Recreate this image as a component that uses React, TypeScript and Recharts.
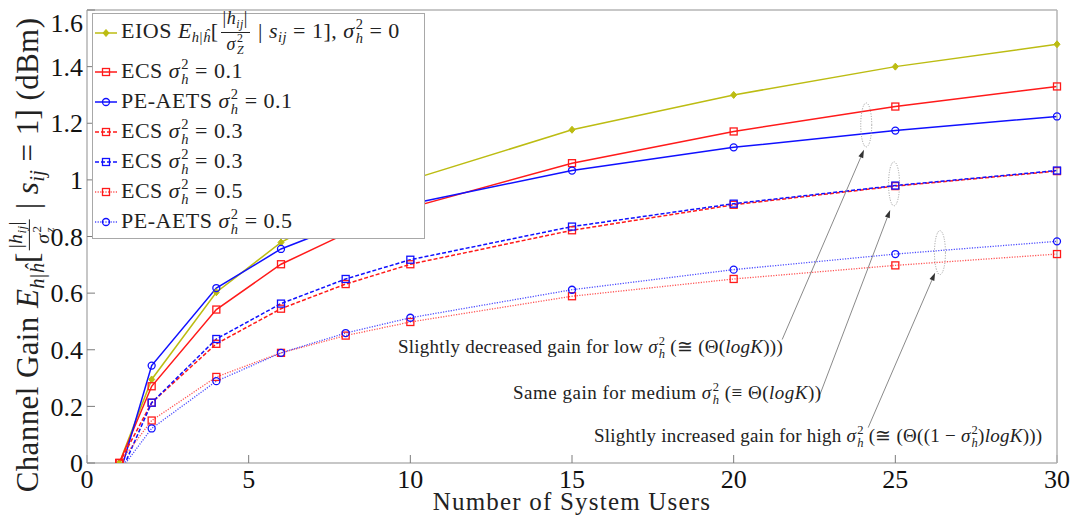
import React from "react";
import { LineChart, Line, XAxis, YAxis, ReferenceLine, ReferenceDot } from "recharts";

const SERIF = '"Liberation Serif", "DejaVu Serif", serif';

// number of system users K
const USERS = [1, 2, 4, 6, 8, 10, 15, 20, 25, 30];

// channel gain per scheme
const EIOS_S0 = [0, 0.295, 0.603, 0.779, 0.9, 1.0, 1.177, 1.3, 1.4, 1.479];
const ECS_S01 = [0, 0.271, 0.542, 0.702, 0.81, 0.902, 1.059, 1.171, 1.259, 1.33];
const PEAETS_S01 = [-0.045, 0.344, 0.618, 0.756, 0.845, 0.915, 1.033, 1.115, 1.174, 1.224];
const ECS_S03 = [0, 0.213, 0.421, 0.545, 0.632, 0.702, 0.822, 0.912, 0.978, 1.031];
const ECS_S03_B = [-0.047, 0.213, 0.438, 0.563, 0.65, 0.718, 0.835, 0.916, 0.98, 1.033];
const ECS_S05 = [0, 0.15, 0.304, 0.389, 0.45, 0.498, 0.589, 0.65, 0.698, 0.738];
const PEAETS_S05 = [-0.03, 0.122, 0.289, 0.389, 0.459, 0.513, 0.612, 0.683, 0.738, 0.783];

const X_TICKS = [0, 5, 10, 15, 20, 25, 30];
const Y_TICKS = [0, 0.2, 0.4, 0.6, 0.8, 1.0, 1.2, 1.4, 1.6];

// annotation arrows (tail -> head) and the dotted ellipses they point at
const ARROWS = [
  { from: [21.5, 0.436], to: [24.03, 1.106] },
  { from: [22.67, 0.242], to: [24.84, 0.894] },
  { from: [24.16, 0.125], to: [26.23, 0.672] },
];
const ELLIPSES = [
  [24.1, 1.194],
  [24.96, 0.986],
  [26.38, 0.743],
];

const YELLOW = "#bcbc12";
const RED = "#ff1a1a";
const BLUE = "#1010ff";

const I = ({ children }: { children: React.ReactNode }) => <i>{children}</i>;

function Script({ sup, sub }: { sup: React.ReactNode; sub: React.ReactNode }) {
  return (
    <span
      style={{
        display: "inline-block",
        fontSize: "0.66em",
        lineHeight: 1,
        verticalAlign: "-0.35em",
        marginLeft: 1,
        textAlign: "left",
      }}
    >
      <span style={{ display: "block" }}>{sup}</span>
      <span style={{ display: "block" }}>{sub}</span>
    </span>
  );
}

function Sub({ children }: { children: React.ReactNode }) {
  return <span style={{ fontSize: "0.66em", verticalAlign: "-0.3em", lineHeight: 1 }}>{children}</span>;
}

function Frac({ num, den, scale }: { num: React.ReactNode; den: React.ReactNode; scale: number }) {
  return (
    <span
      style={{
        display: "inline-flex",
        flexDirection: "column",
        alignItems: "center",
        verticalAlign: "middle",
        fontSize: `${scale}em`,
        lineHeight: 1.0,
        margin: "0 2px",
      }}
    >
      <span style={{ borderBottom: "1px solid currentColor", padding: "0 2px 1px" }}>{num}</span>
      <span>{den}</span>
    </span>
  );
}

const sigmaH = (
  <>
    <I>σ</I>
    <Script sup="2" sub={<I>h</I>} />
  </>
);

function expectation(zSub: string, fracScale: number) {
  return (
    <>
      <I>E</I>
      <Sub>
        <I>h</I>|<I>ĥ</I>
      </Sub>
      [
      <Frac
        scale={fracScale}
        num={
          <>
            |<I>h</I>
            <Sub>
              <I>ij</I>
            </Sub>
            |
          </>
        }
        den={
          <>
            <I>σ</I>
            <Script sup="2" sub={<I>{zSub}</I>} />
          </>
        }
      />
      {" | "}
      <I>s</I>
      <Sub>
        <I>ij</I>
      </Sub>
      {" = 1]"}
    </>
  );
}

type Marker = "diamond" | "square" | "circle";

const SERIES: {
  key: string;
  values: number[];
  color: string;
  dash?: string;
  width: number;
  opacity: number;
  marker: Marker;
  label: React.ReactNode;
}[] = [
  {
    key: "eios",
    values: EIOS_S0,
    color: YELLOW,
    width: 1.5,
    opacity: 1,
    marker: "diamond",
    label: (
      <>
        EIOS {expectation("Z", 0.82)}, {sigmaH} = 0
      </>
    ),
  },
  { key: "ecs01", values: ECS_S01, color: RED, width: 1.5, opacity: 1, marker: "square", label: <>ECS {sigmaH} = 0.1</> },
  { key: "pe01", values: PEAETS_S01, color: BLUE, width: 1.5, opacity: 1, marker: "circle", label: <>PE-AETS {sigmaH} = 0.1</> },
  { key: "ecs03", values: ECS_S03, color: RED, dash: "4 2", width: 1.5, opacity: 1, marker: "square", label: <>ECS {sigmaH} = 0.3</> },
  { key: "ecs03b", values: ECS_S03_B, color: BLUE, dash: "4 2", width: 1.5, opacity: 1, marker: "square", label: <>ECS {sigmaH} = 0.3</> },
  { key: "ecs05", values: ECS_S05, color: RED, dash: "1.2 1.4", width: 1.3, opacity: 0.75, marker: "square", label: <>ECS {sigmaH} = 0.5</> },
  { key: "pe05", values: PEAETS_S05, color: BLUE, dash: "1.2 1.4", width: 1.3, opacity: 0.75, marker: "circle", label: <>PE-AETS {sigmaH} = 0.5</> },
];

const data = USERS.map((x, i) => {
  const row: { [k: string]: number } = { x };
  SERIES.forEach((s) => (row[s.key] = s.values[i]));
  return row;
});

function markerShape(shape: Marker, color: string, cx: number, cy: number, key?: React.Key) {
  if (shape === "square")
    return <rect key={key} x={cx - 3.5} y={cy - 3.5} width={7} height={7} fill="none" stroke={color} strokeWidth={1.3} />;
  if (shape === "circle") return <circle key={key} cx={cx} cy={cy} r={3.5} fill="none" stroke={color} strokeWidth={1.3} />;
  return (
    <polygon
      key={key}
      points={`${cx},${cy - 3.5} ${cx + 3},${cy} ${cx},${cy + 3.5} ${cx - 3},${cy}`}
      fill={color}
      stroke={color}
      strokeWidth={1}
    />
  );
}

function dotFor(shape: Marker, color: string) {
  return (p: any) => {
    if (p.cx == null || p.cy == null || p.value < 0) return <g key={p.index} />;
    return markerShape(shape, color, p.cx, p.cy, p.index);
  };
}

function Arrow(props: any) {
  const { x1, y1, x2, y2 } = props;
  const dx = x2 - x1;
  const dy = y2 - y1;
  const len = Math.hypot(dx, dy) || 1;
  const ux = dx / len;
  const uy = dy / len;
  const bx = x2 - ux * 8;
  const by = y2 - uy * 8;
  return (
    <g>
      <line x1={x1} y1={y1} x2={bx} y2={by} stroke="#8a8a8a" strokeWidth={1} />
      <polygon
        points={`${x2},${y2} ${bx - uy * 2.6},${by + ux * 2.6} ${bx + uy * 2.6},${by - ux * 2.6}`}
        fill="#333"
      />
    </g>
  );
}

const tickStyle = { fontSize: 26, fill: "#111", fontFamily: SERIF };
const axisLine = { stroke: "#b4b4b4", strokeWidth: 1.5 };
const tickLine = { stroke: "#7c7c7c", strokeWidth: 1 };

function LegendBox() {
  return (
    <div
      style={{
        position: "absolute",
        left: 84,
        top: 5,
        width: 333,
        height: 226,
        boxSizing: "border-box",
        border: "1px solid #a8a8a8",
        background: "#fff",
        fontFamily: SERIF,
        fontSize: 22,
        letterSpacing: 0.5,
        color: "#222",
      }}
    >
      {SERIES.map((s, i) => (
        <div
          key={s.key}
          style={{
            height: i === 0 ? 40 : 30,
            display: "flex",
            alignItems: "center",
            whiteSpace: "nowrap",
            marginTop: i === 0 ? -1 : 0,
            marginBottom: i === 0 ? 4 : 0,
          }}
        >
          <svg width={26} height={12} style={{ marginLeft: 1, marginRight: 1, flex: "none" }}>
            <line
              x1={1}
              y1={6}
              x2={23}
              y2={6}
              stroke={s.color}
              strokeWidth={s.width}
              strokeDasharray={s.dash}
              strokeOpacity={s.opacity}
            />
            {markerShape(s.marker, s.color, 12, 6)}
          </svg>
          <span>{s.label}</span>
        </div>
      ))}
    </div>
  );
}

function YLabel() {
  return (
    <div
      style={{
        position: "absolute",
        left: 23,
        top: 247,
        transform: "translate(-50%, -50%) rotate(-90deg)",
        whiteSpace: "nowrap",
        fontFamily: SERIF,
        fontSize: 31,
        letterSpacing: 0.4,
        color: "#222",
      }}
    >
      Channel Gain {expectation("z", 0.64)} (dBm)
    </div>
  );
}

const noteStyle: React.CSSProperties = {
  position: "absolute",
  whiteSpace: "nowrap",
  fontFamily: SERIF,
  fontSize: 19,
  letterSpacing: 0.25,
  lineHeight: "24px",
  color: "#222",
};

function Notes() {
  return (
    <>
      <div style={{ ...noteStyle, left: 390, top: 327 }}>
        Slightly decreased gain for low {sigmaH} (≅ (Θ(<I>logK</I>)))
      </div>
      <div style={{ ...noteStyle, left: 505, top: 373, letterSpacing: 0.5 }}>
        Same gain for medium {sigmaH} (≡ Θ(<I>logK</I>))
      </div>
      <div style={{ ...noteStyle, left: 586, top: 416 }}>
        Slightly increased gain for high {sigmaH} (≅ (Θ((1 − {sigmaH})<I>logK</I>)))
      </div>
    </>
  );
}

export default function App() {
  return (
    <div style={{ position: "relative", width: 1063, height: 509 }}>
      <LineChart width={1063} height={509} data={data} margin={{ top: 1, right: 13, bottom: 7, left: 0 }}>
        <XAxis
          dataKey="x"
          type="number"
          domain={[0, 30]}
          ticks={X_TICKS}
          tick={tickStyle}
          tickSize={-8}
          tickMargin={15}
          height={47}
          axisLine={axisLine}
          tickLine={tickLine}
          label={(props: any) => {
            const vb = props.viewBox;
            return (
              <text
                x={vb.x + vb.width / 2}
                y={vb.y + 47}
                textAnchor="middle"
                fontFamily={SERIF}
                fontSize={25}
                letterSpacing={1.2}
                fill="#222"
              >
                Number of System Users
              </text>
            );
          }}
        />
        <XAxis
          xAxisId="top"
          orientation="top"
          dataKey="x"
          type="number"
          domain={[0, 30]}
          ticks={X_TICKS}
          tick={false}
          tickSize={-8}
          height={1}
          axisLine={axisLine}
          tickLine={tickLine}
        />
        <YAxis
          type="number"
          domain={[0, 1.6]}
          ticks={Y_TICKS}
          allowDataOverflow
          tick={tickStyle}
          tickFormatter={(v) => String(Number(Number(v).toFixed(1)))}
          tickSize={-8}
          tickMargin={12}
          width={79}
          axisLine={axisLine}
          tickLine={tickLine}
        />
        <YAxis
          yAxisId="right"
          orientation="right"
          type="number"
          domain={[0, 1.6]}
          ticks={Y_TICKS}
          tick={false}
          tickSize={-8}
          width={1}
          axisLine={axisLine}
          tickLine={tickLine}
        />
        {SERIES.map((s) => (
          <Line
            key={s.key}
            type="linear"
            dataKey={s.key}
            stroke={s.color}
            strokeWidth={s.width}
            strokeDasharray={s.dash}
            strokeOpacity={s.opacity}
            dot={dotFor(s.marker, s.color)}
            activeDot={false}
            isAnimationActive={false}
          />
        ))}
        {ELLIPSES.map(([x, y], i) => (
          <ReferenceDot
            key={`e${i}`}
            x={x}
            y={y}
            r={0}
            shape={(p: any) => (
              <ellipse cx={p.cx} cy={p.cy} rx={5.5} ry={22} fill="none" stroke="#9a9a9a" strokeWidth={1} strokeDasharray="1 1.5" />
            )}
          />
        ))}
        {ARROWS.map((a, i) => (
          <ReferenceLine
            key={`a${i}`}
            segment={[
              { x: a.from[0], y: a.from[1] },
              { x: a.to[0], y: a.to[1] },
            ]}
            shape={(p: any) => <Arrow {...p} />}
          />
        ))}
      </LineChart>
      <LegendBox />
      <YLabel />
      <Notes />
    </div>
  );
}
